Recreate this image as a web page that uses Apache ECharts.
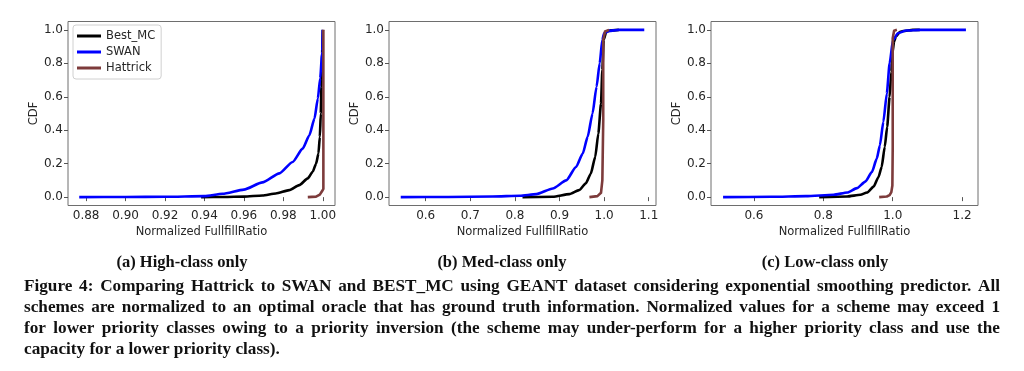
<!DOCTYPE html>
<html><head><meta charset="utf-8">
<script src="https://cdn.jsdelivr.net/npm/echarts@6/dist/echarts.min.js"></script>
<style>html,body{margin:0;padding:0;background:#fff}#c{width:1024px;height:371px}</style>
</head><body><div id="c"></div>
<script>
// ---- data ----
const seriesNames = ['Best_MC', 'SWAN', 'Hattrick'];
const yTicks = [0, 0.2, 0.4, 0.6, 0.8, 1.0];
const xTicksA = [0.88, 0.90, 0.92, 0.94, 0.96, 0.98, 1.00];
const xTicksB = [0.6, 0.7, 0.8, 0.9, 1.0, 1.1];
const xTicksC = [0.6, 0.8, 1.0, 1.2];
const subCaptions = ['(a) High-class only', '(b) Med-class only', '(c) Low-class only'];
const captionLines = [
  'Figure 4: Comparing Hattrick to SWAN and BEST_MC using GEANT dataset considering exponential smoothing predictor. All',
  'schemes are normalized to an optimal oracle that has ground truth information. Normalized values for a scheme may exceed 1',
  'for lower priority classes owing to a priority inversion (the scheme may under-perform for a higher priority class and use the',
  'capacity for a lower priority class).'
];

// (a) High-class
const highBestX = [0.9383, 0.95, 0.96, 0.9694, 0.9762, 0.983, 0.9881, 0.9924, 0.9949, 0.9966, 0.9978, 0.9985, 0.999, 0.9993, 0.9997, 1.0];
const highBestY = [0, 0.001, 0.003, 0.01, 0.022, 0.042, 0.072, 0.112, 0.152, 0.2, 0.26, 0.36, 0.5, 0.66, 0.86, 1.0];
const highSwanX = [0.8765, 0.90, 0.92, 0.94, 0.9492, 0.96, 0.9694, 0.978, 0.9847, 0.9898, 0.9932, 0.9958, 0.9975, 0.9987, 0.9997, 1.0];
const highSwanY = [0, 0.001, 0.002, 0.006, 0.02, 0.045, 0.088, 0.142, 0.21, 0.29, 0.37, 0.47, 0.59, 0.71, 0.87, 1.0];
const highHatX = [0.9924, 0.9966, 0.9985, 0.9996, 1.0003, 1.0003];
const highHatY = [0, 0.003, 0.015, 0.035, 0.05, 1.0];

// (b) Med-class
const medBestX = [0.817, 0.885, 0.922, 0.944, 0.959, 0.970, 0.980, 0.987, 0.993, 0.996, 0.999, 1.005, 1.015, 1.033];
const medBestY = [0, 0.002, 0.018, 0.042, 0.082, 0.14, 0.24, 0.38, 0.56, 0.76, 0.94, 0.99, 0.997, 1.0];
const medSwanX = [0.544, 0.65, 0.75, 0.811, 0.848, 0.885, 0.915, 0.937, 0.952, 0.963, 0.974, 0.983, 0.990, 0.996, 1.0, 1.011, 1.033, 1.06, 1.09];
const medSwanY = [0, 0.001, 0.004, 0.008, 0.018, 0.052, 0.10, 0.18, 0.26, 0.36, 0.50, 0.66, 0.80, 0.94, 0.98, 0.994, 1.0, 1.0, 1.0];
const medHatX = [0.967, 0.985, 0.993, 0.996, 0.998, 0.998, 1.002, 1.011];
const medHatY = [0, 0.006, 0.026, 0.10, 0.46, 0.94, 0.99, 1.0];

// (c) Low-class
const lowBestX = [0.788, 0.869, 0.907, 0.926, 0.945, 0.959, 0.968, 0.977, 0.984, 0.991, 0.996, 0.999, 1.004, 1.009, 1.021, 1.03, 1.058, 1.078];
const lowBestY = [0, 0.004, 0.014, 0.028, 0.063, 0.12, 0.18, 0.30, 0.42, 0.60, 0.75, 0.86, 0.93, 0.96, 0.988, 0.993, 1.0, 1.0];
const lowSwanX = [0.511, 0.65, 0.75, 0.83, 0.869, 0.897, 0.921, 0.94, 0.954, 0.963, 0.973, 0.983, 0.991, 1.001, 1.015, 1.039, 1.08, 1.211];
const lowSwanY = [0, 0.002, 0.006, 0.014, 0.028, 0.054, 0.093, 0.15, 0.23, 0.31, 0.45, 0.62, 0.80, 0.94, 0.98, 0.996, 1.0, 1.0];
const lowHatX = [0.961, 0.983, 0.991, 0.996, 0.999, 1.0, 1.0, 1.004, 1.012];
const lowHatY = [0, 0.004, 0.012, 0.03, 0.07, 0.3, 0.95, 0.995, 1.0];

// ---- build ----
const colors = { 'Best_MC': '#000000', 'SWAN': '#0000ff', 'Hattrick': '#7d3b3b' };
const zip = (xs, ys) => xs.map((x, i) => [x, ys[i]]);
const panels = [
  { left: 68, xmin: 0.8708, xmax: 1.0062, ticks: xTicksA, dec: 2,
    data: [zip(highBestX, highBestY), zip(highSwanX, highSwanY), zip(highHatX, highHatY)] },
  { left: 389, xmin: 0.5177, xmax: 1.1163, ticks: xTicksB, dec: 1,
    data: [zip(medBestX, medBestY), zip(medSwanX, medSwanY), zip(medHatX, medHatY)] },
  { left: 711, xmin: 0.4762, xmax: 1.2458, ticks: xTicksC, dec: 1,
    data: [zip(lowBestX, lowBestY), zip(lowSwanX, lowSwanY), zip(lowHatX, lowHatY)] }
];
const tickFont = { fontFamily: 'DejaVu Sans', fontSize: 12, color: '#262626' };
const titleFont = { fontFamily: 'DejaVu Sans', fontSize: 11.5, color: '#262626' };
const grid = [], xAxis = [], yAxis = [], series = [];
panels.forEach((p, i) => {
  grid.push({ left: p.left, top: 21.5, width: 267, height: 184, show: true,
    borderColor: '#6e6e6e', borderWidth: 1, backgroundColor: 'transparent' });
  xAxis.push({ type: 'value', gridIndex: i, min: p.xmin, max: p.xmax,
    name: 'Normalized FullfillRatio', nameLocation: 'middle', nameGap: 21, nameTextStyle: titleFont,
    axisLine: { show: false }, splitLine: { show: false },
    axisTick: { show: true, inside: false, length: 4, lineStyle: { color: '#555' }, customValues: p.ticks },
    axisLabel: Object.assign({ margin: 4, customValues: p.ticks, formatter: v => v.toFixed(p.dec) }, tickFont) });
  yAxis.push({ type: 'value', gridIndex: i, min: -0.05, max: 1.05,
    name: 'CDF', nameLocation: 'middle', nameGap: 28, nameRotate: 90, nameTextStyle: titleFont,
    axisLine: { show: false }, splitLine: { show: false },
    axisTick: { show: true, inside: false, length: 4, lineStyle: { color: '#555' }, customValues: yTicks },
    axisLabel: Object.assign({ margin: 5, customValues: yTicks, formatter: v => v.toFixed(1) }, tickFont) });
  seriesNames.forEach((n, k) => {
    series.push({ type: 'line', name: n, xAxisIndex: i, yAxisIndex: i, data: p.data[k],
      symbol: 'none', showSymbol: false, smooth: k === 2 ? false : 0.2, smoothMonotone: 'x',
      lineStyle: { color: colors[n], width: 2.6, join: 'round' }, itemStyle: { color: colors[n] },
      z: 2 + k, animation: false });
  });
});

// ---- captions (justified like the paper) ----
const graphic = [];
const subX = [182, 502, 825];
const subFont = 'bold 16.5px "Liberation Serif"';
subCaptions.forEach((t, i) => graphic.push({ type: 'text', x: subX[i], y: 263,
  style: { text: t, font: subFont, fill: '#111', align: 'center', verticalAlign: 'middle' } }));
const capFont = 'bold 17.2px "Liberation Serif"';
const ctx = document.createElement('canvas').getContext('2d');
ctx.font = capFont;
const capLeft = 24, capRight = 1000;
captionLines.forEach((t, i) => {
  const y = 287 + i * 21;
  if (i === captionLines.length - 1) {
    graphic.push({ type: 'text', x: capLeft, y, style: { text: t, font: capFont, fill: '#111', verticalAlign: 'middle' } });
    return;
  }
  const words = t.split(' ');
  const widths = words.map(w => ctx.measureText(w).width);
  const total = widths.reduce((a, b) => a + b, 0);
  const gap = (capRight - capLeft - total) / (words.length - 1);
  let x = capLeft;
  words.forEach((w, k) => {
    graphic.push({ type: 'text', x, y, style: { text: w, font: capFont, fill: '#111', verticalAlign: 'middle' } });
    x += widths[k] + gap;
  });
});

const chart = echarts.init(document.getElementById('c'), null, { renderer: 'canvas' });
chart.setOption({
  animation: false,
  backgroundColor: '#ffffff',
  legend: { data: seriesNames, orient: 'vertical', left: 73, top: 25, padding: [5, 6, 5, 4],
    icon: 'rect', itemGap: 4, itemWidth: 24, itemHeight: 3, borderColor: '#d0d0d0', borderWidth: 1, borderRadius: 3,
    backgroundColor: 'rgba(255,255,255,0.8)',
    textStyle: { fontFamily: 'DejaVu Sans', fontSize: 11.5, color: '#262626' } },
  grid, xAxis, yAxis, series, graphic
});
</script></body></html>
